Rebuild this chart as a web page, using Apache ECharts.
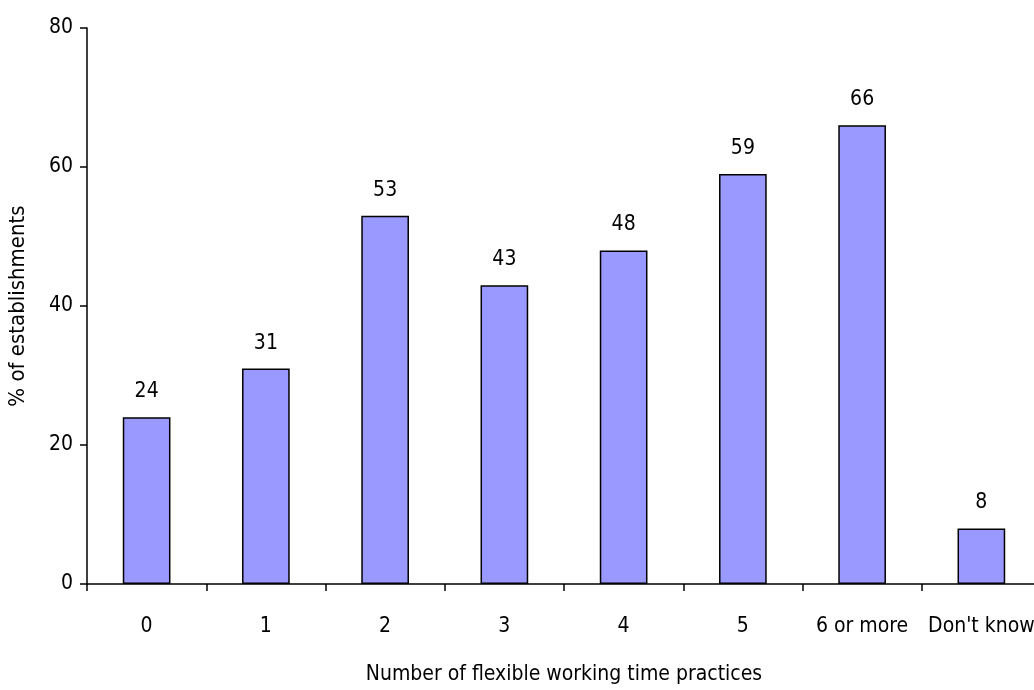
<!DOCTYPE html>
<html>
<head>
<meta charset="utf-8">
<script src="https://cdn.jsdelivr.net/npm/echarts@6/dist/echarts.min.js"></script>
<style>
  html, body { margin: 0; padding: 0; background: #fff; }
  #chart { width: 1034px; height: 690px; }
</style>
</head>
<body>
<div id="chart"></div>
<script>
// Share of establishments by number of flexible working time practices
const categories = ['0', '1', '2', '3', '4', '5', '6 or more', "Don't know"];
const shares = [24, 31, 53, 43, 48, 59, 66, 8];
const yTicks = [0, 20, 40, 60, 80];

const font = "'Liberation Sans Narrow', 'DejaVu Sans Condensed', sans-serif";
const chart = echarts.init(document.getElementById('chart'));

chart.setOption({
  animation: false,
  backgroundColor: '#fff',
  grid: { left: 87, right: -7, top: 28, bottom: 106, containLabel: false, outerBoundsMode: 'none' },
  xAxis: {
    type: 'category',
    data: categories,
    name: 'Number of flexible working time practices',
    nameLocation: 'middle',
    nameGap: 80,
    nameTextStyle: { fontFamily: font, fontSize: 21, color: '#000' },
    axisLine: { lineStyle: { color: '#000', width: 1.5 } },
    axisTick: { show: true, length: 7, lineStyle: { color: '#000', width: 1.5 } },
    axisLabel: { interval: 0, fontFamily: font, fontSize: 21, color: '#000', margin: 32 }
  },
  yAxis: {
    type: 'value',
    min: yTicks[0],
    max: yTicks[yTicks.length - 1],
    interval: 20,
    name: '% of establishments',
    nameLocation: 'middle',
    nameGap: 58,
    nameTextStyle: { fontFamily: font, fontSize: 22, color: '#000' },
    axisLine: { show: true, lineStyle: { color: '#000', width: 1.5 } },
    axisTick: { show: true, length: 7, lineStyle: { color: '#000', width: 1.5 } },
    axisLabel: { fontFamily: font, fontSize: 21, color: '#000', margin: 14 },
    splitLine: { show: false }
  },
  series: [{
    type: 'bar',
    data: shares,
    barWidth: '40%',
    itemStyle: { color: '#9999FF', borderColor: '#000', borderWidth: 1.5 },
    label: {
      show: true,
      position: 'top',
      distance: 15,
      fontFamily: font,
      fontSize: 21,
      color: '#000'
    }
  }]
});
</script>
</body>
</html>
